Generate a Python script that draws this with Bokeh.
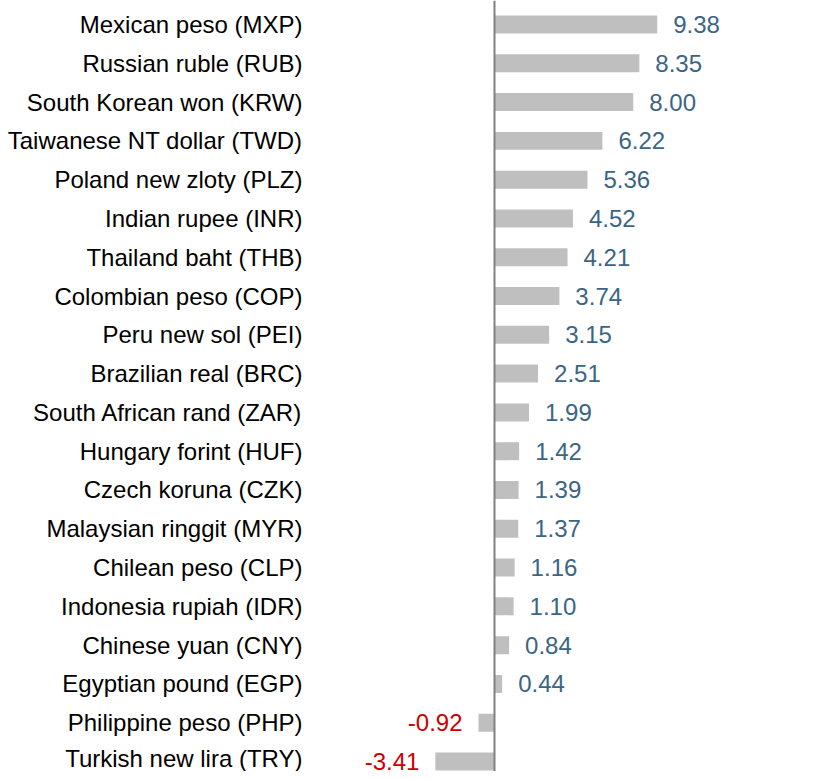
from bokeh.plotting import figure
from bokeh.models import ColumnDataSource, Range1d, FixedTicker, Span
from bokeh.core.properties import value
from bokeh.embed import file_html
from bokeh.resources import INLINE

currencies = [
    "Mexican peso (MXP)", "Russian ruble (RUB)", "South Korean won (KRW)",
    "Taiwanese NT dollar (TWD)", "Poland new zloty (PLZ)", "Indian rupee (INR)",
    "Thailand baht (THB)", "Colombian peso (COP)", "Peru new sol (PEI)",
    "Brazilian real (BRC)", "South African rand (ZAR)", "Hungary forint (HUF)",
    "Czech koruna (CZK)", "Malaysian ringgit (MYR)", "Chilean peso (CLP)",
    "Indonesia rupiah (IDR)", "Chinese yuan (CNY)", "Egyptian pound (EGP)",
    "Philippine peso (PHP)", "Turkish new lira (TRY)",
]
values = [9.38, 8.35, 8.00, 6.22, 5.36, 4.52, 4.21, 3.74, 3.15, 2.51,
          1.99, 1.42, 1.39, 1.37, 1.16, 1.10, 0.84, 0.44, -0.92, -3.41]

POS_COLOR = "#3b6584"
NEG_COLOR = "#cc0000"
FONT = "Liberation Sans"

idx = list(range(len(currencies)))
src = ColumnDataSource(dict(
    y=idx,
    v=values,
    lbl=[f"{v:.2f}" for v in values],
    align=["left" if v >= 0 else "right" for v in values],
    color=[POS_COLOR if v >= 0 else NEG_COLOR for v in values],
    xoff=[16 if v >= 0 else -16 for v in values],
))

p = figure(width=817, height=771, output_backend="svg", toolbar_location=None,
           x_range=Range1d(-10.03, 18.62), y_range=Range1d(19.258, -0.619),
           min_border_left=320, min_border_right=0, min_border_top=0,
           min_border_bottom=0)
p.outline_line_color = None
p.grid.visible = False
p.xaxis.visible = False

p.hbar(y="y", left=0, right="v", height=0.464, source=src,
       fill_color="#bfbfbf", line_color=None)

p.add_layout(Span(location=0, dimension="height", line_color="#808080",
                  line_width=2))

p.text(x="v", y="y", text="lbl", source=src, x_offset="xoff",
       text_align="align", text_baseline="middle", text_color="color",
       text_font=value(FONT), text_font_size="24px")

ax = p.yaxis[0]
ax.ticker = FixedTicker(ticks=idx)
ax.major_label_overrides = {i: c for i, c in zip(idx, currencies)}
ax.axis_line_color = None
ax.major_tick_line_color = None
ax.minor_tick_line_color = None
ax.major_tick_out = 0
ax.major_tick_in = 0
ax.major_label_standoff = 18
ax.major_label_text_font = FONT
ax.major_label_text_font_size = "24px"
ax.major_label_text_color = "#000000"

open("out.html", "w").write(file_html(p, INLINE))
